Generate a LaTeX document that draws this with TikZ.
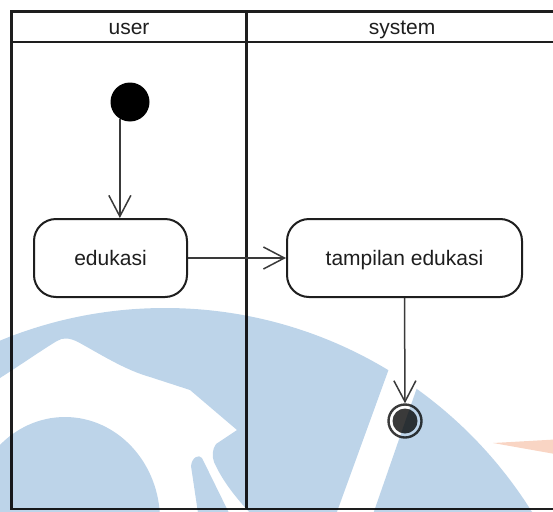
\documentclass[tikz,border=0pt]{standalone}
\usepackage{fontspec}
\setmainfont{Liberation Sans}
\usetikzlibrary{arrows.meta}
\definecolor{wmblue}{HTML}{BDD4E9}
\definecolor{wmorange}{HTML}{F9D5C4}
\definecolor{ink}{HTML}{1E1E1E}
\definecolor{flowgray}{HTML}{3A3A3A}
\begin{document}
\begin{tikzpicture}[x=1pt,y=-1pt,
  lane/.style={draw=ink, line width=2.5pt},
  lanetitle/.style={font=\fontsize{21}{25}\selectfont, text=ink, inner sep=0pt, text height=15pt, text depth=0pt},
  action/.style={draw=ink, line width=2pt, rounded corners=22pt, fill=white,
    font=\fontsize{21}{25}\selectfont, text=ink, text height=15pt, text depth=0pt,
    inner sep=0pt, minimum height=78pt},
  initial/.style={circle, fill=black, minimum size=39pt, inner sep=0pt},
  finalring/.style={circle, draw=flowgray, line width=2.4pt, fill=white, minimum size=33pt, inner sep=0pt},
  flow/.style={draw=flowgray, line width=1.5pt, -{Straight Barb[length=21pt,width=22pt]}}
]
\useasboundingbox (0,0) rectangle (553,511);

% swimlane frame
\draw[lane] (560,11.5) -- (11.5,11.5) -- (11.5,509) -- (560,509);
\draw[lane] (11.5,42) -- (560,42);
\draw[lane] (246.5,11.5) -- (246.5,509);
\node[lanetitle] (userlbl) at (129,27) {user};
\node[lanetitle] (syslbl) at (402,27) {system};

% activity nodes
\node[initial] (start) at (130,102) {};
\node[action, minimum width=153pt] (edu) at (110.5,258) {edukasi};
\node[action, minimum width=235pt] (tam) at (404.5,258) {tampilan edukasi};
\node[finalring] (fin) at (405,421) {};
\fill[flowgray] (fin.center) circle (12.5);

% control flows
\draw[flow] (start.-121) -- (start.-121 |- edu.north);
\draw[flow] (edu.east) -- (tam.west);
\draw[flow] (tam.south) -- (fin.north);

% background logo, printed over everything in multiply mode
\begin{scope}
  \clip (0,0) rectangle (553,511);
  \begin{scope}[blend mode=multiply]
    \fill[wmorange] (493,443) -- (555,439.5) -- (555,454) -- cycle;
    \clip (165,740) circle (432);
    \fill[wmblue, even odd rule]
      (-10,-10) rectangle (600,600)
      (-5,381) -- (0,378) .. controls (25,362) and (45,348) .. (57,341)
        .. controls (63,337) and (70,338) .. (78,342)
        .. controls (100,354) and (125,370) .. (150,377)
        -- (190,390) -- (237,430) -- (216,444)
        .. controls (212,450) and (212,456) .. (214,462)
        .. controls (222,480) and (235,497) .. (252,515)
        -- (-5,515) -- cycle
      (65,520) ellipse [x radius=95, y radius=103]
      (191,466) .. controls (192,457) and (199,454) .. (202,458)
        -- (229,513) -- (198,513) -- cycle
      (403,330) -- (437,330) -- (371,520) -- (334,520) -- cycle;
  \end{scope}
\end{scope}
\end{tikzpicture}
\end{document}
